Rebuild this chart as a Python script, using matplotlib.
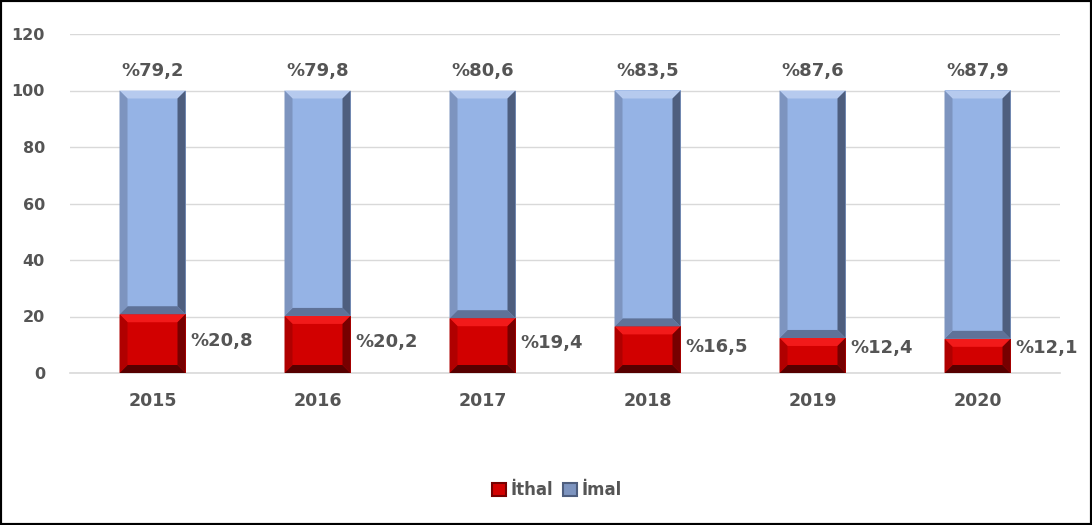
import matplotlib.pyplot as plt
from matplotlib.patches import Polygon, Rectangle
import numpy as np

years = ["2015", "2016", "2017", "2018", "2019", "2020"]
ithal = [20.8, 20.2, 19.4, 16.5, 12.4, 12.1]
imal = [79.2, 79.8, 80.6, 83.5, 87.6, 87.9]
ithal_labels = ["%20,8", "%20,2", "%19,4", "%16,5", "%12,4", "%12,1"]
imal_labels = ["%79,2", "%79,8", "%80,6", "%83,5", "%87,6", "%87,9"]

TXT = "#555555"
red = {"face": "#D20000", "top": "#F21A1A", "left": "#B00000", "right": "#760000", "bottom": "#560000"}
blue = {"face": "#95B3E5", "top": "#B6CAEE", "left": "#7D94BF", "right": "#4E5E7E", "bottom": "#5F7298"}

fig = plt.figure(figsize=(10.92, 5.25), dpi=100)
ax = fig.add_axes([70 / 1092, 1 - 373 / 525, 990 / 1092, 339 / 525])

x = np.arange(len(years))
w = 0.4
b1 = ax.bar(x, ithal, w, color=red["face"], zorder=3)
b2 = ax.bar(x, imal, w, bottom=ithal, color=blue["face"], zorder=3)

ax.set_xlim(-0.5, len(years) - 0.5)
ax.set_ylim(0, 120)
ax.set_yticks(range(0, 121, 20))
ax.set_xticks(x)
ax.set_xticklabels(years)
ax.grid(axis="y", color="#D9D9D9", lw=1, zorder=0)
ax.axhline(0, color="#D9D9D9", lw=1.2, clip_on=False, zorder=1)
ax.set_axisbelow(True)
for s in ax.spines.values():
    s.set_visible(False)
ax.tick_params(length=0)
ax.tick_params(axis="y", pad=18, labelsize=11.5, labelcolor=TXT)
ax.tick_params(axis="x", pad=14, labelsize=12.5, labelcolor=TXT)
for t in ax.get_xticklabels() + ax.get_yticklabels():
    t.set_fontweight("bold")

# bevel size in data units (8 px)
inv = ax.transData.inverted()
p0 = inv.transform((0, 0))
p1 = inv.transform((8, 8))
bx, by = p1[0] - p0[0], p1[1] - p0[1]

def bevel(bars, cols):
    for r in bars:
        x0, y0 = r.get_x(), r.get_y()
        x1, y1 = x0 + r.get_width(), y0 + r.get_height()
        ix0, ix1, iy0, iy1 = x0 + bx, x1 - bx, y0 + by, y1 - by
        polys = {
            "top": [(x0, y1), (x1, y1), (ix1, iy1), (ix0, iy1)],
            "bottom": [(x0, y0), (x1, y0), (ix1, iy0), (ix0, iy0)],
            "left": [(x0, y0), (ix0, iy0), (ix0, iy1), (x0, y1)],
            "right": [(x1, y0), (ix1, iy0), (ix1, iy1), (x1, y1)],
        }
        for k, pts in polys.items():
            ax.add_patch(Polygon(pts, closed=True, color=cols[k], lw=0, zorder=4))

bevel(b1, red)
bevel(b2, blue)

for i, r in enumerate(b1):
    ax.text(r.get_x() + r.get_width() + 0.03, max(ithal[i] / 2 + 1, 8.8), ithal_labels[i],
            ha="left", va="center", fontsize=13, fontweight="bold", color=TXT, zorder=5)
for i, r in enumerate(b2):
    ax.text(r.get_x() + r.get_width() / 2, 107, imal_labels[i],
            ha="center", va="center", fontsize=13, fontweight="bold", color=TXT, zorder=5)

handles = [Rectangle((0, 0), 1, 1, fc=red["face"], ec=red["right"], lw=1.5),
           Rectangle((0, 0), 1, 1, fc=blue["left"], ec=blue["right"], lw=1.5)]
leg = fig.legend(handles, ["İthal", "İmal"], loc="center", bbox_to_anchor=(557 / 1092, 1 - 490 / 525),
                 ncol=2, frameon=False, handlelength=0.8, handleheight=0.8, handletextpad=0.3,
                 columnspacing=0.6, prop={"weight": "bold", "size": 12})
for t in leg.get_texts():
    t.set_color(TXT)

fig.patches.append(Rectangle((0, 0), 1, 1, transform=fig.transFigure, fill=False, ec="black", lw=3))

fig.savefig("out.png", dpi=100)
